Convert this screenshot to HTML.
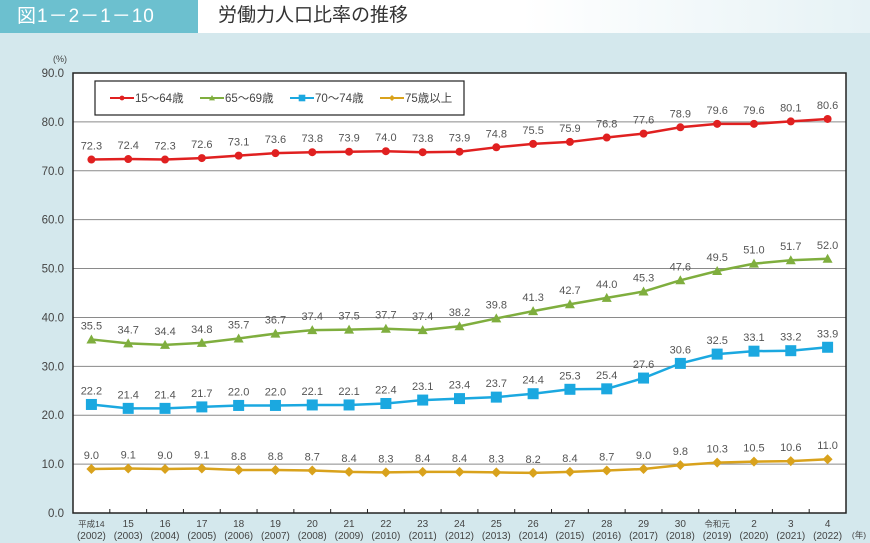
<!DOCTYPE html>
<html><head><meta charset="utf-8">
<style>
body{margin:0;width:870px;height:543px;overflow:hidden;background:#d4e8ed;font-family:"Liberation Sans","Noto Sans CJK JP",sans-serif;}
#hdr{position:absolute;left:0;top:0;width:870px;height:33px;background:linear-gradient(90deg,#ffffff 0%,#ffffff 60%,#e6f2f5 100%);}
#fig{position:absolute;left:0;top:0;width:198px;height:33px;background:#6cc0cf;color:#fff;font-size:19px;line-height:33px;padding-left:17px;box-sizing:border-box;letter-spacing:1px;font-family:"Liberation Sans","Noto Sans CJK JP",sans-serif;}
#ttl{position:absolute;left:218px;top:0;line-height:31px;font-size:19px;color:#333;font-family:"Liberation Sans","Noto Sans CJK JP",sans-serif;}
svg{position:absolute;left:0;top:0;}
svg text{font-family:"Liberation Sans","Noto Sans CJK JP",sans-serif;}
</style></head><body>
<div id="hdr"></div>
<div id="fig">図1－2－1－10</div>
<div id="ttl">労働力人口比率の推移</div>
<svg id="chart" width="870" height="543"></svg>
<script>
const categories=["平成14|(2002)","15|(2003)","16|(2004)","17|(2005)","18|(2006)","19|(2007)","20|(2008)","21|(2009)","22|(2010)","23|(2011)","24|(2012)","25|(2013)","26|(2014)","27|(2015)","28|(2016)","29|(2017)","30|(2018)","令和元|(2019)","2|(2020)","3|(2021)","4|(2022)"];
const s1564=[72.3,72.4,72.3,72.6,73.1,73.6,73.8,73.9,74.0,73.8,73.9,74.8,75.5,75.9,76.8,77.6,78.9,79.6,79.6,80.1,80.6];
const s6569=[35.5,34.7,34.4,34.8,35.7,36.7,37.4,37.5,37.7,37.4,38.2,39.8,41.3,42.7,44.0,45.3,47.6,49.5,51.0,51.7,52.0];
const s7074=[22.2,21.4,21.4,21.7,22.0,22.0,22.1,22.1,22.4,23.1,23.4,23.7,24.4,25.3,25.4,27.6,30.6,32.5,33.1,33.2,33.9];
const s75=[9.0,9.1,9.0,9.1,8.8,8.8,8.7,8.4,8.3,8.4,8.4,8.3,8.2,8.4,8.7,9.0,9.8,10.3,10.5,10.6,11.0];
const yTicks=[0,10,20,30,40,50,60,70,80,90];
const seriesNames=["15～64歳","65～69歳","70～74歳","75歳以上"];

const NS="http://www.w3.org/2000/svg";
const svg=document.getElementById('chart');
const L=73,R=846,T=73,B=513,YMAX=90;
const step=(R-L)/categories.length;
function x(i){return L+step*(i+0.5);}
function y(v){return B-(v/YMAX)*(B-T);}
function mk(tag,attrs,parent){const e=document.createElementNS(NS,tag);for(const k in attrs)e.setAttribute(k,attrs[k]);(parent||svg).appendChild(e);return e;}

const plot=mk('rect',{x:L,y:T,width:R-L,height:B-T,fill:'#fff'});



yTicks.forEach(t=>{
  if(t>0&&t<YMAX){const g=mk('line',{x1:L,x2:R,y1:y(t),y2:y(t),stroke:'#8a8a8a','stroke-width':1});
  
  }
  const tx=mk('text',{x:L-9,y:y(t)+4,'text-anchor':'end','font-size':11.5,fill:'#444'});
  tx.textContent=t.toFixed(1);
  
  
});
const unit=mk('text',{x:60,y:62,'text-anchor':'middle','font-size':9,fill:'#444'});unit.textContent='(%)';



const border=mk('rect',{x:L,y:T,width:R-L,height:B-T,fill:'none',stroke:'#222','stroke-width':1.5});



categories.forEach((c,i)=>{
  if(i>0){const tk=mk('line',{x1:L+step*i,x2:L+step*i,y1:B,y2:B-4,stroke:'#222'});
  
  }
  const p=c.split('|');
  const t1=mk('text',{x:x(i),y:B+14,'text-anchor':'middle','font-size':p[0].length>2?8.5:10,fill:'#444'});t1.textContent=p[0];
  
  
  const t2=mk('text',{x:x(i),y:B+26,'text-anchor':'middle','font-size':10,fill:'#444'});t2.textContent=p[1];
  
  
});
const yl=mk('text',{x:859,y:B+25,'text-anchor':'middle','font-size':8.5,fill:'#444'});yl.textContent='(年)';



const series=[
 {d:s1564,c:'#e02020',m:'circle',n:'series-15-64'},
 {d:s6569,c:'#7fae3e',m:'tri',n:'series-65-69'},
 {d:s7074,c:'#1ba8e0',m:'sq',n:'series-70-74'},
 {d:s75,c:'#d9a21c',m:'dia',n:'series-75-plus'}];
function marker(type,cx,cy,c,parent){
  if(type==='circle')return mk('circle',{cx,cy,r:4,fill:c},parent);
  if(type==='sq')return mk('rect',{x:cx-5.5,y:cy-5.5,width:11,height:11,fill:c},parent);
  if(type==='tri')return mk('polygon',{points:`${cx},${cy-5} ${cx-5},${cy+4} ${cx+5},${cy+4}`,fill:c},parent);
  return mk('polygon',{points:`${cx},${cy-5} ${cx+5},${cy} ${cx},${cy+5} ${cx-5},${cy}`,fill:c},parent);
}
series.forEach(s=>{
  const g=mk('g',{});
  
  
  const ln=mk('polyline',{points:s.d.map((v,i)=>x(i)+','+y(v)).join(' '),fill:'none',stroke:s.c,'stroke-width':2.5},g);
  
  
  s.d.forEach((v,i)=>{
    const m=marker(s.m,x(i),y(v),s.c,g);
    
    
    const lb=mk('text',{x:x(i),y:y(v)-10,'text-anchor':'middle','font-size':11,fill:'#555'},g);
    lb.textContent=v.toFixed(1);
    
    
  });
});

const lg=mk('g',{});


mk('rect',{x:95,y:81,width:369,height:34,fill:'#fff',stroke:'#222','stroke-width':1.2},lg);
const lx=[110,200,290,380];
series.forEach((s,k)=>{
  const e=mk('g',{},lg);
  
  
  mk('line',{x1:lx[k],x2:lx[k]+24,y1:98,y2:98,stroke:s.c,'stroke-width':2},e);
  const m=marker(s.m,lx[k]+12,98,s.c,e);m.setAttribute('transform',`translate(${lx[k]+12},98) scale(0.6) translate(${-(lx[k]+12)},-98)`);
  const t=mk('text',{x:lx[k]+25,y:102,'font-size':11.5,fill:'#444'},e);t.textContent=seriesNames[k];
});
</script>
</body></html>
